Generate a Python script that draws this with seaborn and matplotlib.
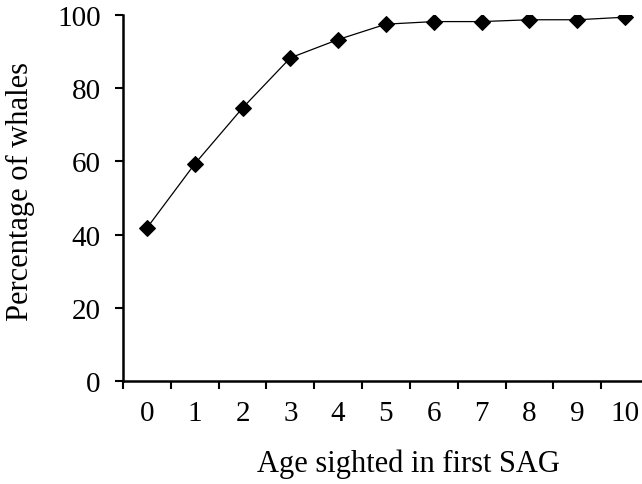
import numpy as np
import pandas as pd
import matplotlib
matplotlib.use("Agg")
import matplotlib.pyplot as plt
import seaborn as sns

# ---------- DATA ----------
AGES = [0, 1, 2, 3, 4, 5, 6, 7, 8, 9, 10]
PCT_WHALES = [41.8, 59.3, 74.6, 88.3, 93.3, 97.5, 98.2, 98.2, 98.7, 98.7, 99.4]
Y_TICKS = [0, 20, 40, 60, 80, 100]
# --------------------------

sns.set_style("ticks")
plt.rcParams['font.family'] = ['Liberation Serif', 'DejaVu Serif']
plt.rcParams['font.size'] = 21
plt.rcParams['text.color'] = 'black'
plt.rcParams['axes.labelcolor'] = 'black'
plt.rcParams['xtick.color'] = 'black'
plt.rcParams['ytick.color'] = 'black'

df = pd.DataFrame({'age': AGES, 'pct': PCT_WHALES})

fig = plt.figure(figsize=(6.42, 4.85), dpi=100)
ax = fig.add_axes([123 / 642, 103 / 485, 526 / 642, 366 / 485])

sns.lineplot(data=df, x='age', y='pct', ax=ax, color='black', lw=0.9,
             marker='D', markersize=8, markeredgecolor='black',
             markerfacecolor='black')

ax.set_xlim(-0.5, 10.5)
ax.set_ylim(0, 100)

# category-style x axis: labels centred, tick marks between categories
ax.set_xticks(AGES)
ax.set_xticklabels([str(a) for a in AGES])
ax.set_xticks(np.array(AGES + [AGES[-1] + 1]) - 0.5, minor=True)
ax.tick_params(axis='x', which='major', length=0, pad=14, labelsize=21)
ax.tick_params(axis='x', which='minor', length=6, width=1.5, direction='out')

ax.set_yticks(Y_TICKS)
ax.tick_params(axis='y', length=6, width=1.5, direction='out', pad=10,
               labelsize=21)

for side in ['top', 'right']:
    ax.spines[side].set_visible(False)
for side in ['left', 'bottom']:
    ax.spines[side].set_linewidth(1.8)
    ax.spines[side].set_color('black')

ax.set_xlabel('Age sighted in first SAG', fontsize=22)
ax.set_ylabel('Percentage of whales', fontsize=22)
ax.xaxis.set_label_coords(0.542, -0.185)
ax.yaxis.set_label_coords(-0.168, 0.52)

fig.savefig('out.png', dpi=100)
